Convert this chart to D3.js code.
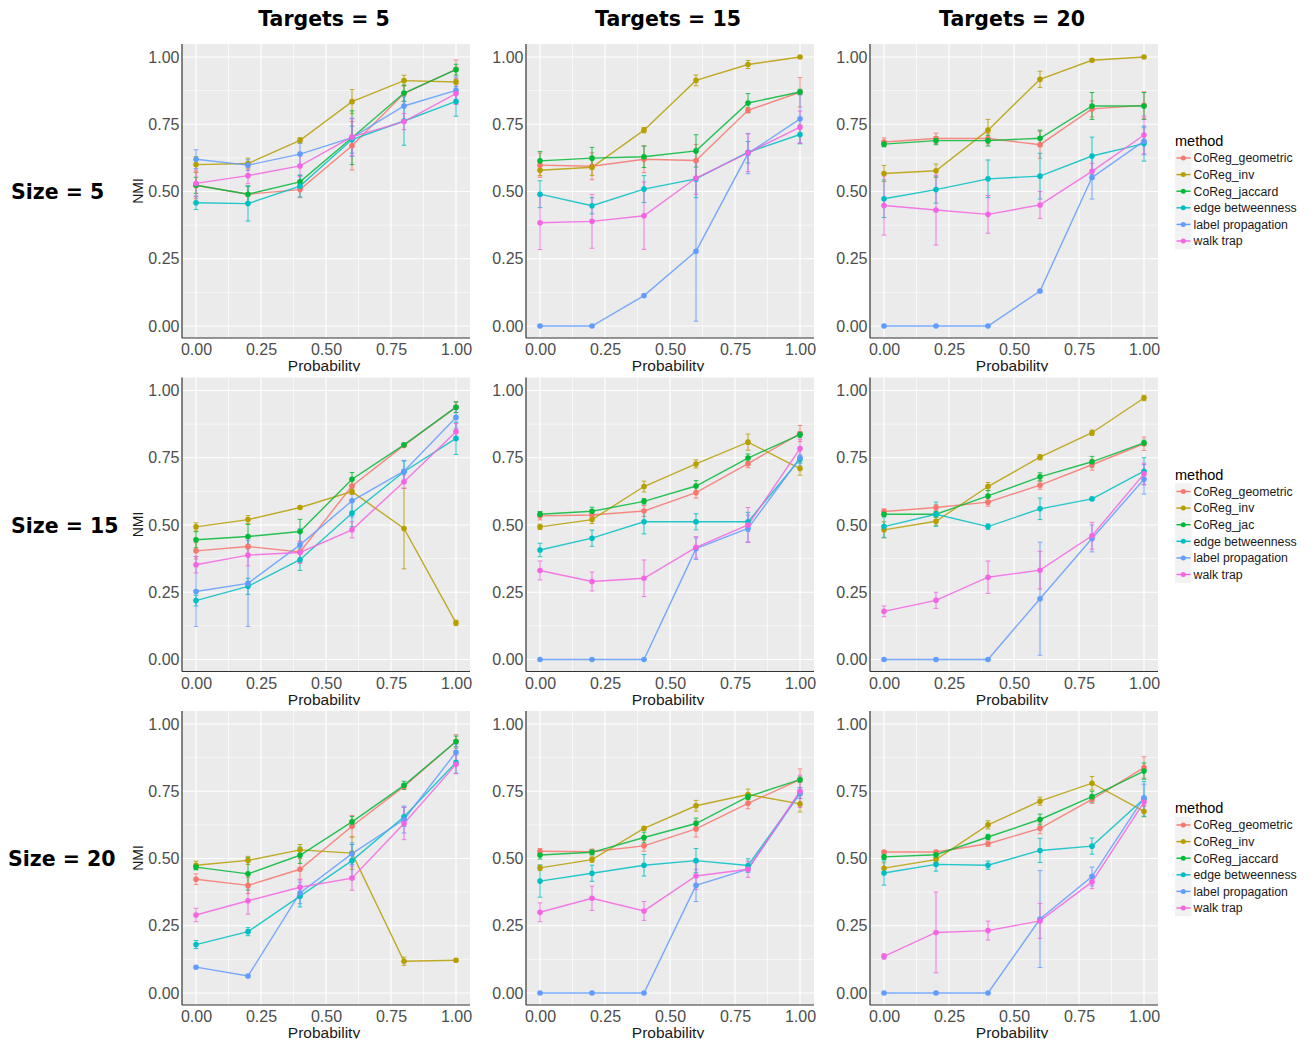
<!DOCTYPE html>
<html>
<head>
<meta charset="utf-8">
<script src="https://cdn.jsdelivr.net/npm/d3@7"></script>
<style>
  body { margin: 0; background: #fff; }
  text { font-family: "Liberation Sans", Arial, sans-serif; }
</style>
</head>
<body>
<div class="chart"></div>
<script>
// methods, x positions and labels
let methods = ["CoReg_geometric", "CoReg_inv", "CoReg_jaccard", "edge betweenness", "label propagation", "walk trap"];
let colors = ["#F8766D", "#B79F00", "#00BA38", "#00BFC4", "#619CFF", "#F564E3"];
let probs = [0, 0.2, 0.4, 0.6, 0.8, 1.0];
let ticks = [0, 0.25, 0.5, 0.75, 1.0];
let targets = ["Targets = 5", "Targets = 15", "Targets = 20"];
let sizes = ["Size = 5", "Size = 15", "Size = 20"];
let legendLabels = [
    methods,
    ["CoReg_geometric", "CoReg_inv", "CoReg_jac", "edge betweenness", "label propagation", "walk trap"],
    methods
];

// mean NMI per panel, one row per method (same order as methods)
let nmiT5S5 = [
    [0.523, 0.49, 0.507, 0.67, 0.864, 0.954],
    [0.60, 0.604, 0.69, 0.834, 0.912, 0.907],
    [0.523, 0.49, 0.536, 0.70, 0.866, 0.953],
    [0.458, 0.455, 0.52, 0.693, 0.762, 0.835],
    [0.62, 0.598, 0.639, 0.70, 0.818, 0.876],
    [0.53, 0.559, 0.595, 0.703, 0.76, 0.864]
];
let errT5S5 = [
    [0.05, 0.03, 0.03, 0.09, 0.03, 0.035],
    [0.03, 0.02, 0.01, 0.045, 0.02, 0.01],
    [0.03, 0.03, 0.025, 0.1, 0.03, 0.02],
    [0.025, 0.065, 0.04, 0.05, 0.09, 0.055],
    [0.035, 0.02, 0.04, 0.07, 0.05, 0.05],
    [0.05, 0.03, 0.04, 0.07, 0.03, 0.04]
];
let nmiT15S5 = [
    [0.598, 0.594, 0.62, 0.615, 0.802, 0.869],
    [0.579, 0.59, 0.728, 0.913, 0.972, 1.0],
    [0.614, 0.624, 0.629, 0.651, 0.829, 0.87],
    [0.49, 0.447, 0.509, 0.547, 0.646, 0.712],
    [0, 0, 0.113, 0.278, 0.641, 0.77],
    [0.384, 0.389, 0.41, 0.55, 0.644, 0.739]
];
let errT15S5 = [
    [0.045, 0.05, 0.05, 0.06, 0.01, 0.055],
    [0.02, 0.03, 0.01, 0.02, 0.015, 0.003],
    [0.035, 0.04, 0.04, 0.06, 0.035, 0.01],
    [0.05, 0.03, 0.05, 0.07, 0.04, 0.035],
    [0, 0, 0.004, 0.26, 0.075, 0.09],
    [0.1, 0.1, 0.125, 0.06, 0.07, 0.06]
];
let nmiT20S5 = [
    [0.684, 0.697, 0.697, 0.674, 0.807, 0.82],
    [0.567, 0.577, 0.728, 0.917, 0.988, 1.0],
    [0.676, 0.689, 0.689, 0.698, 0.818, 0.818],
    [0.473, 0.507, 0.547, 0.557, 0.632, 0.678],
    [0, 0, 0, 0.13, 0.552, 0.687],
    [0.448, 0.431, 0.415, 0.45, 0.575, 0.71]
];
let errT20S5 = [
    [0.015, 0.02, 0.02, 0.05, 0.03, 0.05],
    [0.03, 0.025, 0.04, 0.03, 0.005, 0.002],
    [0.01, 0.015, 0.02, 0.03, 0.05, 0.05],
    [0.07, 0.05, 0.07, 0.085, 0.07, 0.065],
    [0, 0, 0, 0.005, 0.08, 0.05],
    [0.11, 0.13, 0.07, 0.05, 0.03, 0.07]
];
let nmiT5S15 = [
    [0.404, 0.42, 0.40, 0.645, 0.796, 0.938],
    [0.493, 0.52, 0.565, 0.624, 0.487, 0.136],
    [0.445, 0.457, 0.476, 0.67, 0.798, 0.938],
    [0.219, 0.272, 0.371, 0.544, 0.698, 0.822],
    [0.253, 0.283, 0.426, 0.59, 0.70, 0.90],
    [0.352, 0.388, 0.398, 0.482, 0.661, 0.847]
];
let errT5S15 = [
    [0.03, 0.03, 0.04, 0.03, 0.005, 0.02],
    [0.015, 0.015, 0.005, 0.01, 0.15, 0.01],
    [0.03, 0.045, 0.045, 0.025, 0.005, 0.02],
    [0.02, 0.03, 0.04, 0.05, 0.04, 0.06],
    [0.13, 0.16, 0.06, 0.06, 0.04, 0.04],
    [0.03, 0.04, 0.04, 0.03, 0.025, 0.03]
];
let nmiT15S15 = [
    [0.534, 0.537, 0.552, 0.62, 0.728, 0.84],
    [0.493, 0.52, 0.643, 0.727, 0.808, 0.71],
    [0.54, 0.551, 0.588, 0.645, 0.749, 0.836],
    [0.407, 0.451, 0.512, 0.512, 0.512, 0.745],
    [0, 0, 0, 0.412, 0.487, 0.75],
    [0.331, 0.29, 0.302, 0.417, 0.50, 0.784]
];
let errT15S15 = [
    [0.015, 0.01, 0.02, 0.02, 0.015, 0.03],
    [0.01, 0.015, 0.02, 0.015, 0.03, 0.025],
    [0.01, 0.015, 0.01, 0.02, 0.015, 0.01],
    [0.025, 0.03, 0.045, 0.03, 0.035, 0.015],
    [0, 0, 0, 0.04, 0.05, 0.03],
    [0.035, 0.035, 0.068, 0.04, 0.065, 0.035]
];
let nmiT20S15 = [
    [0.55, 0.565, 0.585, 0.648, 0.724, 0.802],
    [0.482, 0.514, 0.643, 0.752, 0.843, 0.972],
    [0.54, 0.54, 0.608, 0.679, 0.735, 0.805],
    [0.494, 0.54, 0.494, 0.56, 0.597, 0.70],
    [0, 0, 0, 0.226, 0.45, 0.67],
    [0.179, 0.22, 0.306, 0.332, 0.46, 0.69]
];
let errT20S15 = [
    [0.01, 0.01, 0.015, 0.015, 0.02, 0.025],
    [0.03, 0.015, 0.015, 0.01, 0.01, 0.01],
    [0.01, 0.01, 0.02, 0.015, 0.02, 0.01],
    [0.04, 0.045, 0.01, 0.04, 0.005, 0.05],
    [0, 0, 0, 0.21, 0.05, 0.055],
    [0.02, 0.03, 0.06, 0.07, 0.05, 0.04]
];
let nmiT5S20 = [
    [0.423, 0.40, 0.46, 0.62, 0.768, 0.935],
    [0.475, 0.493, 0.532, 0.52, 0.118, 0.122],
    [0.468, 0.443, 0.512, 0.636, 0.772, 0.935],
    [0.18, 0.228, 0.36, 0.492, 0.655, 0.857],
    [0.096, 0.063, 0.372, 0.518, 0.645, 0.895],
    [0.29, 0.343, 0.393, 0.427, 0.63, 0.85]
];
let errT5S20 = [
    [0.02, 0.03, 0.04, 0.04, 0.01, 0.025],
    [0.015, 0.015, 0.02, 0.06, 0.015, 0.005],
    [0.01, 0.06, 0.03, 0.02, 0.015, 0.02],
    [0.015, 0.015, 0.04, 0.06, 0.035, 0.04],
    [0.004, 0.004, 0.04, 0.04, 0.05, 0.03],
    [0.025, 0.05, 0.03, 0.045, 0.06, 0.035]
];
let nmiT15S20 = [
    [0.527, 0.525, 0.547, 0.61, 0.705, 0.793],
    [0.465, 0.496, 0.612, 0.696, 0.738, 0.703],
    [0.513, 0.523, 0.578, 0.63, 0.73, 0.793],
    [0.416, 0.445, 0.475, 0.492, 0.474, 0.743],
    [0, 0, 0, 0.40, 0.46, 0.743],
    [0.30, 0.352, 0.305, 0.435, 0.46, 0.75]
];
let errT15S20 = [
    [0.01, 0.01, 0.02, 0.03, 0.02, 0.04],
    [0.01, 0.01, 0.005, 0.02, 0.02, 0.03],
    [0.015, 0.01, 0.02, 0.02, 0.01, 0.01],
    [0.06, 0.03, 0.04, 0.045, 0.025, 0.02],
    [0, 0, 0, 0.06, 0.01, 0.02],
    [0.035, 0.045, 0.035, 0.05, 0.03, 0.06]
];
let nmiT20S20 = [
    [0.524, 0.524, 0.555, 0.612, 0.72, 0.838],
    [0.464, 0.496, 0.625, 0.713, 0.78, 0.675],
    [0.506, 0.514, 0.58, 0.645, 0.73, 0.825],
    [0.446, 0.478, 0.475, 0.53, 0.546, 0.722],
    [0, 0, 0, 0.275, 0.433, 0.726],
    [0.136, 0.225, 0.232, 0.268, 0.413, 0.71]
];
let errT20S20 = [
    [0.005, 0.005, 0.01, 0.02, 0.015, 0.04],
    [0.02, 0.01, 0.015, 0.015, 0.025, 0.02],
    [0.01, 0.01, 0.01, 0.02, 0.02, 0.03],
    [0.045, 0.025, 0.015, 0.045, 0.03, 0.065],
    [0, 0, 0, 0.18, 0.035, 0.05],
    [0.01, 0.15, 0.035, 0.065, 0.025, 0.015]
];

// grid of panels: rows = size, cols = targets
let panels = [
    [[nmiT5S5, errT5S5], [nmiT15S5, errT15S5], [nmiT20S5, errT20S5]],
    [[nmiT5S15, errT5S15], [nmiT15S15, errT15S15], [nmiT20S15, errT20S15]],
    [[nmiT5S20, errT5S20], [nmiT15S20, errT15S20], [nmiT20S20, errT20S20]]
];

let W = 288, H = 294;
let colLeft = [182, 526, 870];
let rowTop = [44, 377.5, 711];

let x = d3.scaleLinear().domain([0, 1]).range([14, 274]);
let y = d3.scaleLinear().domain([0, 1]).range([282, 13]);

let svg = d3.select(".chart")
    .append("svg")
    .attr("width", 1314)
    .attr("height", 1045)
    .style("background-color", "white");

// clip for the x-axis title (the bottom of it is cut off in the original)
svg.append("defs").append("clipPath")
    .attr("id", "xtclip")
    .append("rect")
    .attr("x", -40).attr("y", H)
    .attr("width", W + 80).attr("height", 33.5);

// column strip titles
targets.forEach(function (t, c) {
    svg.append("text")
        .attr("x", colLeft[c] + W / 2 - 2)
        .attr("y", 26)
        .attr("text-anchor", "middle")
        .style("font-family", "DejaVu Sans")
        .style("font-weight", "bold")
        .style("font-size", "20.5px")
        .text(t);
});

// row titles
sizes.forEach(function (s, r) {
    svg.append("text")
        .attr("x", r == 2 ? 8 : 11)
        .attr("y", rowTop[r] + 155)
        .style("font-family", "DejaVu Sans")
        .style("font-weight", "bold")
        .style("font-size", "20.5px")
        .text(s);
});

let line = d3.line()
    .x(function (d) { return x(d[0]); })
    .y(function (d) { return y(d[1]); });

panels.forEach(function (row, r) {
    row.forEach(function (p, c) {
        let nmi = p[0], err = p[1];
        let g = svg.append("g")
            .attr("transform", "translate(" + colLeft[c] + "," + rowTop[r] + ")");

        g.append("rect")
            .attr("width", W)
            .attr("height", H)
            .attr("fill", "#EBEBEB");

        // minor grid
        let minor = [0.125, 0.375, 0.625, 0.875];
        g.selectAll(".minx").data(minor).enter().append("line")
            .attr("x1", x).attr("x2", x).attr("y1", 0).attr("y2", H)
            .attr("stroke", "#fff").attr("stroke-width", 0.6);
        g.selectAll(".miny").data(minor).enter().append("line")
            .attr("y1", y).attr("y2", y).attr("x1", 0).attr("x2", W)
            .attr("stroke", "#fff").attr("stroke-width", 0.6);
        // major grid
        g.selectAll(".majx").data(ticks).enter().append("line")
            .attr("x1", x).attr("x2", x).attr("y1", 0).attr("y2", H)
            .attr("stroke", "#fff").attr("stroke-width", 1.2);
        g.selectAll(".majy").data(ticks).enter().append("line")
            .attr("y1", y).attr("y2", y).attr("x1", 0).attr("x2", W)
            .attr("stroke", "#fff").attr("stroke-width", 1.2);

        // axes
        let ax = g.append("g")
            .attr("transform", "translate(0," + H + ")")
            .call(d3.axisBottom(x).tickValues(ticks).tickFormat(d3.format(".2f")).tickSize(0).tickPadding(6));
        let ay = g.append("g")
            .call(d3.axisLeft(y).tickValues(ticks).tickFormat(d3.format(".2f")).tickSize(0).tickPadding(2.5));
        [ax, ay].forEach(function (a) {
            a.select(".domain").remove();
            a.selectAll("text")
                .style("font-family", "Liberation Sans")
                .style("font-size", "16px")
                .attr("fill", "#4D4D4D");
        });
        g.append("line").attr("x1", 0).attr("x2", 0).attr("y1", 0).attr("y2", H)
            .attr("stroke", "#333").attr("stroke-width", 1.2);
        g.append("line").attr("x1", 0).attr("x2", W).attr("y1", H).attr("y2", H)
            .attr("stroke", "#333").attr("stroke-width", 1.2);

        g.append("text")
            .attr("x", W / 2 - 2)
            .attr("y", H + 33)
            .attr("text-anchor", "middle")
            .attr("clip-path", "url(#xtclip)")
            .style("font-size", "15.5px")
            .attr("fill", "#1a1a1a")
            .text("Probability");

        if (c == 0) {
            g.append("text")
                .attr("transform", "translate(-44," + (H / 2) + ") rotate(-90)")
                .attr("text-anchor", "middle")
                .attr("dy", "0.35em")
                .style("font-size", "14px")
                .attr("fill", "#1a1a1a")
                .text("NMI");
        }

        // error bars
        methods.forEach(function (m, k) {
            let eg = g.append("g")
                .attr("stroke", colors[k])
                .attr("stroke-width", 1)
                .attr("opacity", 0.85);
            probs.forEach(function (pr, i) {
                let lo = y(nmi[k][i] - err[k][i]), hi = y(nmi[k][i] + err[k][i]);
                eg.append("line").attr("x1", x(pr)).attr("x2", x(pr)).attr("y1", lo).attr("y2", hi);
                eg.append("line").attr("x1", x(pr) - 2.3).attr("x2", x(pr) + 2.3).attr("y1", lo).attr("y2", lo);
                eg.append("line").attr("x1", x(pr) - 2.3).attr("x2", x(pr) + 2.3).attr("y1", hi).attr("y2", hi);
            });
        });

        // lines
        methods.forEach(function (m, k) {
            g.append("path")
                .datum(probs.map(function (pr, i) { return [pr, nmi[k][i]]; }))
                .attr("d", line)
                .attr("fill", "none")
                .attr("stroke", colors[k])
                .attr("stroke-width", 1.4)
                .attr("opacity", 0.85);
        });

        // points
        methods.forEach(function (m, k) {
            g.selectAll(".pt" + k)
                .data(probs.map(function (pr, i) { return [pr, nmi[k][i]]; }))
                .enter()
                .append("circle")
                .attr("cx", function (d) { return x(d[0]); })
                .attr("cy", function (d) { return y(d[1]); })
                .attr("r", 2.8)
                .attr("fill", colors[k]);
        });
    });

    // legend for the row
    let lg = svg.append("g")
        .attr("transform", "translate(1175," + rowTop[r] + ")");
    lg.append("text")
        .attr("x", 0)
        .attr("y", 102)
        .style("font-size", "14.5px")
        .attr("fill", "#000")
        .text("method");
    let item = lg.selectAll(".item")
        .data(legendLabels[r])
        .enter()
        .append("g")
        .attr("transform", function (d, i) {
            return "translate(0," + (114 + i * 16.6) + ")";
        });
    item.append("rect")
        .attr("x", 0).attr("y", -8.3)
        .attr("width", 16.6).attr("height", 16.6)
        .attr("fill", "#F2F2F2");
    item.append("line")
        .attr("x1", 1.5).attr("x2", 15.5).attr("y1", 0).attr("y2", 0)
        .attr("stroke", function (d, i) { return colors[i]; })
        .attr("stroke-width", 1.4);
    item.append("circle")
        .attr("cx", 8.3).attr("cy", 0).attr("r", 2.5)
        .attr("fill", function (d, i) { return colors[i]; });
    item.append("text")
        .attr("x", 18.5)
        .attr("dy", "0.35em")
        .style("font-size", "12.3px")
        .attr("fill", "#1a1a1a")
        .text(function (d) { return d; });
});
</script>
</body>
</html>
